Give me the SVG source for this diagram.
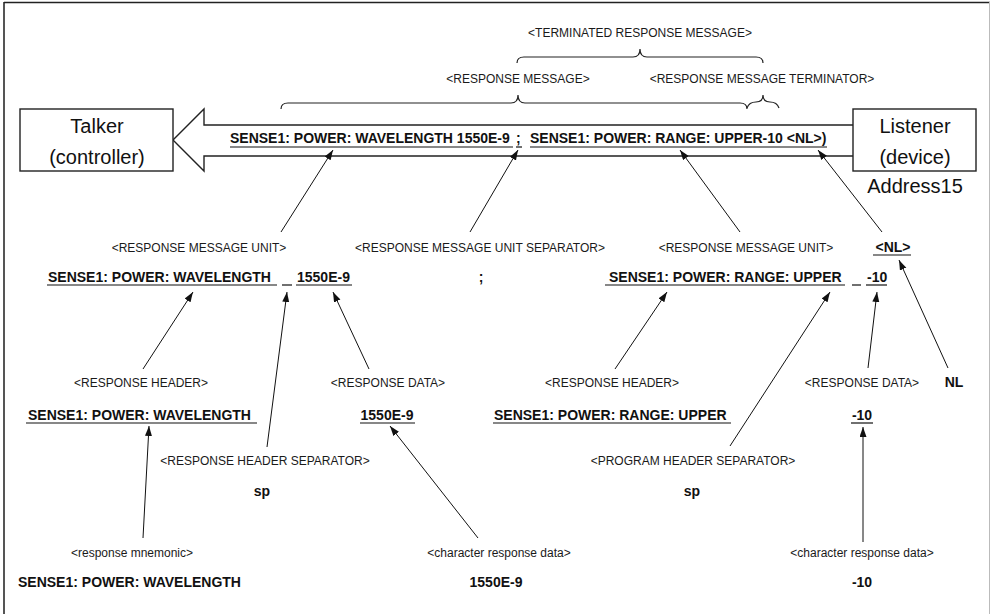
<svg xmlns="http://www.w3.org/2000/svg" width="991" height="614" viewBox="0 0 991 614">
  <style>
    .lbl { font-family: "Liberation Sans", Arial, sans-serif; font-size: 12px; fill: #1a1a1a; }
    .big { font-family: "Liberation Sans", Arial, sans-serif; font-size: 20px; fill: #111; text-anchor: middle; }
    .b { font-family: "Liberation Sans", Arial, sans-serif; font-size: 14px; font-weight: bold; fill: #111; }
    .mid { text-anchor: middle; }
    .ul { stroke: #111; stroke-width: 1.2; fill: none; }
    .box { fill: #fff; stroke: #222; stroke-width: 1.4; }
    .brace { fill: none; stroke: #222; stroke-width: 1.2; }
    .conn { stroke: #111; stroke-width: 1; fill: none; marker-end: url(#ah); }
  </style>
  <defs>
    <marker id="ah" markerUnits="userSpaceOnUse" markerWidth="11" markerHeight="8" refX="10" refY="3.5" orient="auto">
      <path d="M0,0 L10,3.5 L0,7 z" fill="#111"/>
    </marker>
  </defs>

  <rect width="991" height="614" fill="#fff"/>
  <!-- page frame -->
  <line x1="4" y1="2" x2="4" y2="614" stroke="#555" stroke-width="2"/>
  <line x1="4" y1="2.5" x2="990" y2="2.5" stroke="#222" stroke-width="1.5"/>
  <line x1="989.5" y1="2" x2="989.5" y2="614" stroke="#bbb" stroke-width="1"/>

  <!-- braces and their labels -->
  <g id="braces">
    <path class="brace" d="M517,63 Q517,57 524,57 L633,57 Q640,57 640,49 Q640,57 647,57 L756,57 Q763,57 763,63"/>
    <path class="brace" d="M281,109 Q281,103 288,103 L511,103 Q518,103 518,95 Q518,103 525,103 L740,103 Q747,103 747,109"/>
    <path class="brace" d="M747,108 Q749,102 756,102 Q763,102 763,95 Q763,102 770,102 Q777,102 779,108"/>
    <text class="lbl mid" x="640" y="37">&lt;TERMINATED RESPONSE MESSAGE&gt;</text>
    <text class="lbl mid" x="518" y="83">&lt;RESPONSE MESSAGE&gt;</text>
    <text class="lbl mid" x="762" y="83">&lt;RESPONSE MESSAGE TERMINATOR&gt;</text>
  </g>

  <!-- message band -->
  <g id="band">
    <path d="M853,125 L204,125 L204,109 L173,140 L204,171 L204,156 L853,156" fill="#fff" stroke="#222" stroke-width="1.4"/>
    <text class="b" x="230" y="143">SENSE1: POWER: WAVELENGTH 1550E-9</text>
    <text class="b" x="516" y="143">;</text>
    <text class="b" x="530" y="143">SENSE1: POWER: RANGE: UPPER-10 &lt;NL&gt;)</text>
    <line class="ul" x1="230" y1="147" x2="513" y2="147"/>
    <line class="ul" x1="516" y1="147" x2="522" y2="147"/>
    <line class="ul" x1="530" y1="147" x2="827" y2="147"/>
  </g>

  <g id="talker">
    <rect class="box" x="20" y="109" width="153" height="62"/>
    <text class="big" x="97" y="133">Talker</text>
    <text class="big" x="97" y="164">(controller)</text>
  </g>

  <g id="listener">
    <rect class="box" x="853" y="109" width="123" height="62"/>
    <text class="big" x="915" y="133">Listener</text>
    <text class="big" x="915" y="164">(device)</text>
    <text class="big" x="915" y="193">Address15</text>
  </g>

  <!-- response message units -->
  <g id="unit1">
    <text class="lbl mid" x="199" y="252">&lt;RESPONSE MESSAGE UNIT&gt;</text>
    <text class="b" x="48" y="282">SENSE1: POWER: WAVELENGTH</text>
    <line class="ul" x1="47" y1="285" x2="277" y2="285"/>
    <line class="ul" x1="282" y1="285" x2="292" y2="285"/>
    <text class="b" x="297" y="282">1550E-9</text>
    <line class="ul" x1="296" y1="285" x2="352" y2="285"/>
  </g>

  <g id="separator">
    <text class="lbl mid" x="480" y="252">&lt;RESPONSE MESSAGE UNIT SEPARATOR&gt;</text>
    <text class="b mid" x="481" y="282">;</text>
  </g>

  <g id="unit2">
    <text class="lbl mid" x="746" y="252">&lt;RESPONSE MESSAGE UNIT&gt;</text>
    <text class="b" x="609" y="282">SENSE1: POWER: RANGE: UPPER</text>
    <line class="ul" x1="605" y1="285" x2="845" y2="285"/>
    <line class="ul" x1="852" y1="285" x2="861" y2="285"/>
    <text class="b" x="867" y="282">-10</text>
    <line class="ul" x1="866" y1="285" x2="887" y2="285"/>
  </g>

  <g id="terminator">
    <text class="b mid" x="893" y="252">&lt;NL&gt;</text>
    <line class="ul" x1="873" y1="255" x2="911" y2="255"/>
  </g>

  <!-- headers and data -->
  <g id="header1">
    <text class="lbl mid" x="141" y="387">&lt;RESPONSE HEADER&gt;</text>
    <text class="b" x="28" y="420">SENSE1: POWER: WAVELENGTH</text>
    <line class="ul" x1="26" y1="423" x2="257" y2="423"/>
  </g>

  <g id="data1">
    <text class="lbl mid" x="388" y="387">&lt;RESPONSE DATA&gt;</text>
    <text class="b mid" x="387" y="420">1550E-9</text>
    <line class="ul" x1="360" y1="423" x2="415" y2="423"/>
  </g>

  <g id="header2">
    <text class="lbl mid" x="612" y="387">&lt;RESPONSE HEADER&gt;</text>
    <text class="b" x="494" y="420">SENSE1: POWER: RANGE: UPPER</text>
    <line class="ul" x1="493" y1="423" x2="731" y2="423"/>
  </g>

  <g id="data2">
    <text class="lbl mid" x="862" y="387">&lt;RESPONSE DATA&gt;</text>
    <text class="b mid" x="862" y="420">-10</text>
    <line class="ul" x1="851" y1="423" x2="873" y2="423"/>
  </g>

  <g id="nl">
    <text class="b mid" x="954" y="387">NL</text>
  </g>

  <!-- separators -->
  <g id="hsep1">
    <text class="lbl mid" x="265" y="465">&lt;RESPONSE HEADER SEPARATOR&gt;</text>
    <text class="b mid" x="262" y="496">sp</text>
  </g>

  <g id="hsep2">
    <text class="lbl mid" x="693" y="465">&lt;PROGRAM HEADER SEPARATOR&gt;</text>
    <text class="b mid" x="692" y="496">sp</text>
  </g>

  <!-- elements -->
  <g id="mnemonic">
    <text class="lbl mid" x="132" y="557">&lt;response mnemonic&gt;</text>
    <text class="b" x="18" y="587">SENSE1: POWER: WAVELENGTH</text>
  </g>

  <g id="chardata1">
    <text class="lbl mid" x="499" y="557">&lt;character response data&gt;</text>
    <text class="b mid" x="496" y="587">1550E-9</text>
  </g>

  <g id="chardata2">
    <text class="lbl mid" x="862" y="557">&lt;character response data&gt;</text>
    <text class="b mid" x="862" y="587">-10</text>
  </g>

  <!-- connectors -->
  <g id="connectors">
    <line class="conn" x1="281" y1="232" x2="333" y2="150"/>
    <line class="conn" x1="470" y1="232" x2="518" y2="150"/>
    <line class="conn" x1="740" y1="232" x2="680" y2="150"/>
    <line class="conn" x1="882" y1="232" x2="818" y2="150"/>

    <line class="conn" x1="143" y1="369" x2="193" y2="292"/>
    <line class="conn" x1="267" y1="447" x2="287" y2="292"/>
    <line class="conn" x1="369" y1="369" x2="333" y2="292"/>
    <line class="conn" x1="615" y1="369" x2="667" y2="292"/>
    <line class="conn" x1="730" y1="446" x2="830" y2="292"/>
    <line class="conn" x1="868" y1="368" x2="877" y2="292"/>
    <line class="conn" x1="948" y1="368" x2="899" y2="260"/>

    <line class="conn" x1="143" y1="538" x2="149" y2="426"/>
    <line class="conn" x1="478" y1="538" x2="390" y2="426"/>
    <line class="conn" x1="863" y1="542" x2="863" y2="427"/>
  </g>
</svg>
